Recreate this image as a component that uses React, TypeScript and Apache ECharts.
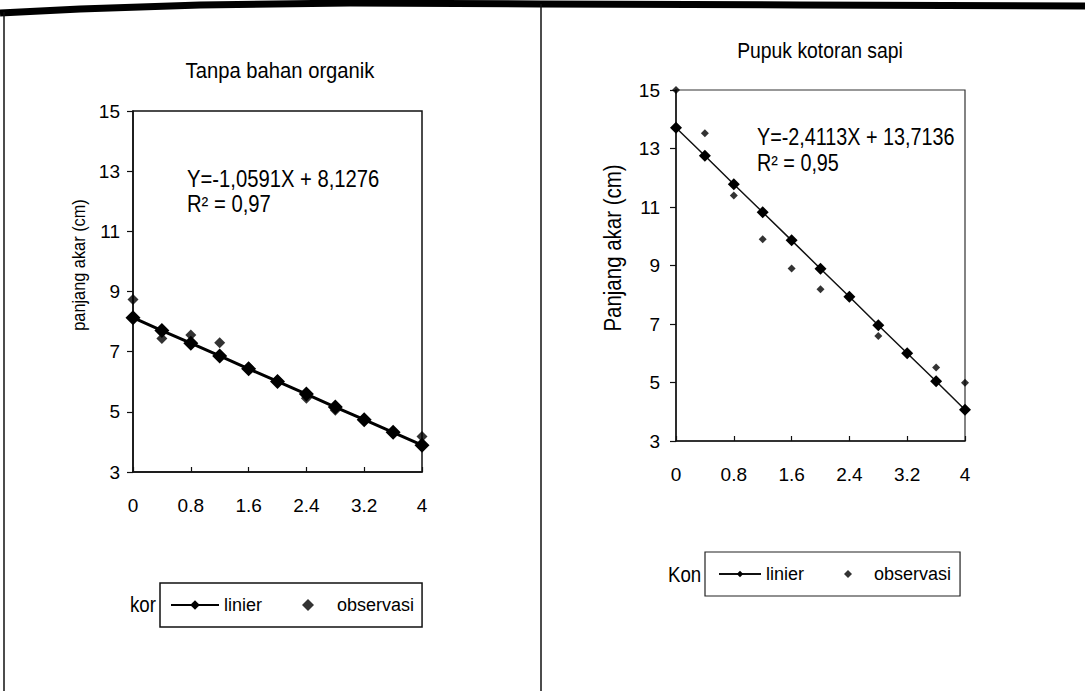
import React, { useEffect, useRef } from "react";
import * as echarts from "echarts";

const xValues = [0, 0.4, 0.8, 1.2, 1.6, 2.0, 2.4, 2.8, 3.2, 3.6, 4.0];
const leftLinier = [8.13, 7.7, 7.28, 6.86, 6.43, 6.01, 5.59, 5.16, 4.74, 4.32, 3.89];
const leftObservasi = [8.73, 7.44, 7.55, 7.3, 6.48, 6.05, 5.45, 5.05, 4.7, 4.3, 4.18];
const rightLinier = [13.71, 12.75, 11.78, 10.82, 9.86, 8.89, 7.93, 6.96, 6.0, 5.04, 4.07];
const rightObservasi = [15.0, 13.52, 11.39, 9.9, 8.9, 8.19, 7.9, 6.59, 6.0, 5.51, 4.99];
const xTickLabels = ["0", "0.8", "1.6", "2.4", "3.2", "4"];
const yRange = { min: 3, max: 15, step: 2 };
const xRange = { min: 0, max: 4, step: 0.8 };

const leftTitle = "Tanpa bahan organik";
const rightTitle = "Pupuk kotoran sapi";
const leftYName = "panjang akar (cm)";
const rightYName = "Panjang akar (cm)";
const leftEq = ["Y=-1,0591X + 8,1276", "R² = 0,97"];
const rightEq = ["Y=-2,4113X + 13,7136", "R² = 0,95"];

const FONT = "'Liberation Sans', Arial, Helvetica, sans-serif";
const DIAMOND = "path://M5,0 L10,5 L5,10 L0,5 Z";

function pairs(ys: number[]) {
  return xValues.map((x, i) => [x, ys[i]]);
}

function xAxisCfg(gridIndex: number, fontSize: number, margin: number) {
  return {
    type: "value",
    gridIndex,
    min: xRange.min,
    max: xRange.max,
    interval: xRange.step,
    axisLine: { show: true, lineStyle: { color: "#111", width: 1.5 } },
    axisTick: { show: true, inside: true, length: 5, lineStyle: { color: "#111", width: 1.2 } },
    splitLine: { show: false },
    axisLabel: {
      color: "#000",
      fontSize,
      fontFamily: FONT,
      margin,
      formatter: (v: number) => {
        const idx = Math.round(v / xRange.step);
        return xTickLabels[idx] ?? "";
      },
    },
  };
}

function yAxisCfg(gridIndex: number, fontSize: number, margin: number) {
  return {
    type: "value",
    gridIndex,
    min: yRange.min,
    max: yRange.max,
    interval: yRange.step,
    axisLine: { show: true, lineStyle: { color: "#111", width: 1.5 } },
    axisTick: { show: true, inside: false, length: 6, lineStyle: { color: "#111", width: 1.2 } },
    splitLine: { show: false },
    axisLabel: { color: "#000", fontSize, fontFamily: FONT, margin },
  };
}

export default function App() {
  const ref = useRef<HTMLDivElement>(null);

  useEffect(() => {
    if (!ref.current) return;
    const chart = echarts.init(ref.current, null, { renderer: "svg" });

    const text = (
      x: number,
      y: number,
      t: string,
      fontSize: number,
      sx: number,
      extra: any = {}
    ) => ({
      type: "text",
      x,
      y,
      z: 10,
      scaleX: sx,
      style: {
        text: t,
        fontSize,
        fontFamily: FONT,
        fill: "#000",
        align: "center",
        verticalAlign: "middle",
        ...(extra.style || {}),
      },
      ...(extra.rotation !== undefined ? { rotation: extra.rotation } : {}),
    });

    const option: any = {
      animation: false,
      backgroundColor: "#fff",
      grid: [
        { left: 133, top: 111, width: 289, height: 361, show: true, borderColor: "#111", borderWidth: 1.5, backgroundColor: "transparent" },
        { left: 676, top: 90, width: 289, height: 351, show: true, borderColor: "#333", borderWidth: 1.2, backgroundColor: "transparent" },
      ],
      xAxis: [xAxisCfg(0, 19, 24), xAxisCfg(1, 19, 24)],
      yAxis: [yAxisCfg(0, 19, 13), yAxisCfg(1, 19, 16)],
      legend: [
        {
          left: 160,
          top: 583,
          orient: "horizontal",
          padding: [13, 8, 13, 10],
          itemWidth: 48,
          itemHeight: 12,
          itemGap: 40,
          borderColor: "#111",
          borderWidth: 1.5,
          backgroundColor: "#fff",
          data: ["linier", { name: "observasi", icon: DIAMOND }],
          textStyle: { fontSize: 18, fontFamily: FONT, color: "#000" },
        },
        {
          left: 705,
          top: 552,
          orient: "horizontal",
          padding: [13, 9, 13, 13],
          itemWidth: 42,
          itemHeight: 8,
          itemGap: 40,
          borderColor: "#222",
          borderWidth: 1.2,
          backgroundColor: "#fff",
          data: ["linier_R", { name: "observasi_R", icon: DIAMOND }],
          formatter: (n: string) => n.replace("_R", ""),
          textStyle: { fontSize: 18, fontFamily: FONT, color: "#000" },
        },
      ],
      series: [
        {
          name: "linier",
          type: "line",
          xAxisIndex: 0,
          yAxisIndex: 0,
          data: pairs(leftLinier),
          symbol: "diamond",
          symbolSize: 15,
          lineStyle: { color: "#000", width: 3 },
          itemStyle: { color: "#000" },
          z: 3,
        },
        {
          name: "observasi",
          type: "scatter",
          xAxisIndex: 0,
          yAxisIndex: 0,
          data: pairs(leftObservasi),
          symbol: "diamond",
          symbolSize: 11,
          itemStyle: { color: "#000" },
          z: 4,
        },
        {
          name: "linier_R",
          type: "line",
          xAxisIndex: 1,
          yAxisIndex: 1,
          data: pairs(rightLinier),
          symbol: "diamond",
          symbolSize: 12,
          lineStyle: { color: "#111", width: 1.5 },
          itemStyle: { color: "#000" },
          z: 3,
        },
        {
          name: "observasi_R",
          type: "scatter",
          xAxisIndex: 1,
          yAxisIndex: 1,
          data: pairs(rightObservasi),
          symbol: "diamond",
          symbolSize: 8,
          itemStyle: { color: "#000" },
          z: 4,
        },
      ],
      graphic: [
        {
          type: "polyline",
          z: 20,
          shape: { points: [[0, 13], [80, 9], [200, 5], [350, 3], [540, 4], [800, 5], [1085, 6]] },
          style: { stroke: "#000", lineWidth: 7, fill: null },
        },
        { type: "line", z: 20, shape: { x1: 4, y1: 12, x2: 4, y2: 691 }, style: { stroke: "#111", lineWidth: 1.5 } },
        { type: "line", z: 20, shape: { x1: 541, y1: 4, x2: 541, y2: 691 }, style: { stroke: "#111", lineWidth: 1.5 } },
        text(280, 70, leftTitle, 22, 0.92),
        text(820, 50, rightTitle, 22, 0.88),
        text(79, 265, leftYName, 19, 0.86, { rotation: Math.PI / 2 }),
        text(613, 248, rightYName, 23, 0.89, { rotation: Math.PI / 2 }),
        text(187, 179, leftEq[0], 23, 0.88, { style: { align: "left" } }),
        text(187, 204, leftEq[1], 23, 0.88, { style: { align: "left" } }),
        text(757, 137, rightEq[0], 23, 0.86, { style: { align: "left" } }),
        text(757, 163, rightEq[1], 23, 0.86, { style: { align: "left" } }),
        text(130, 604, "kor", 22, 0.85, { style: { align: "left" } }),
        text(668, 574, "Kon", 22, 0.85, { style: { align: "left" } }),
      ],
    };

    chart.setOption(option);
    return () => chart.dispose();
  }, []);

  return (
    <div
      ref={ref}
      style={{ position: "absolute", left: 0, top: 0, width: 1085, height: 691, background: "#fff" }}
    />
  );
}
